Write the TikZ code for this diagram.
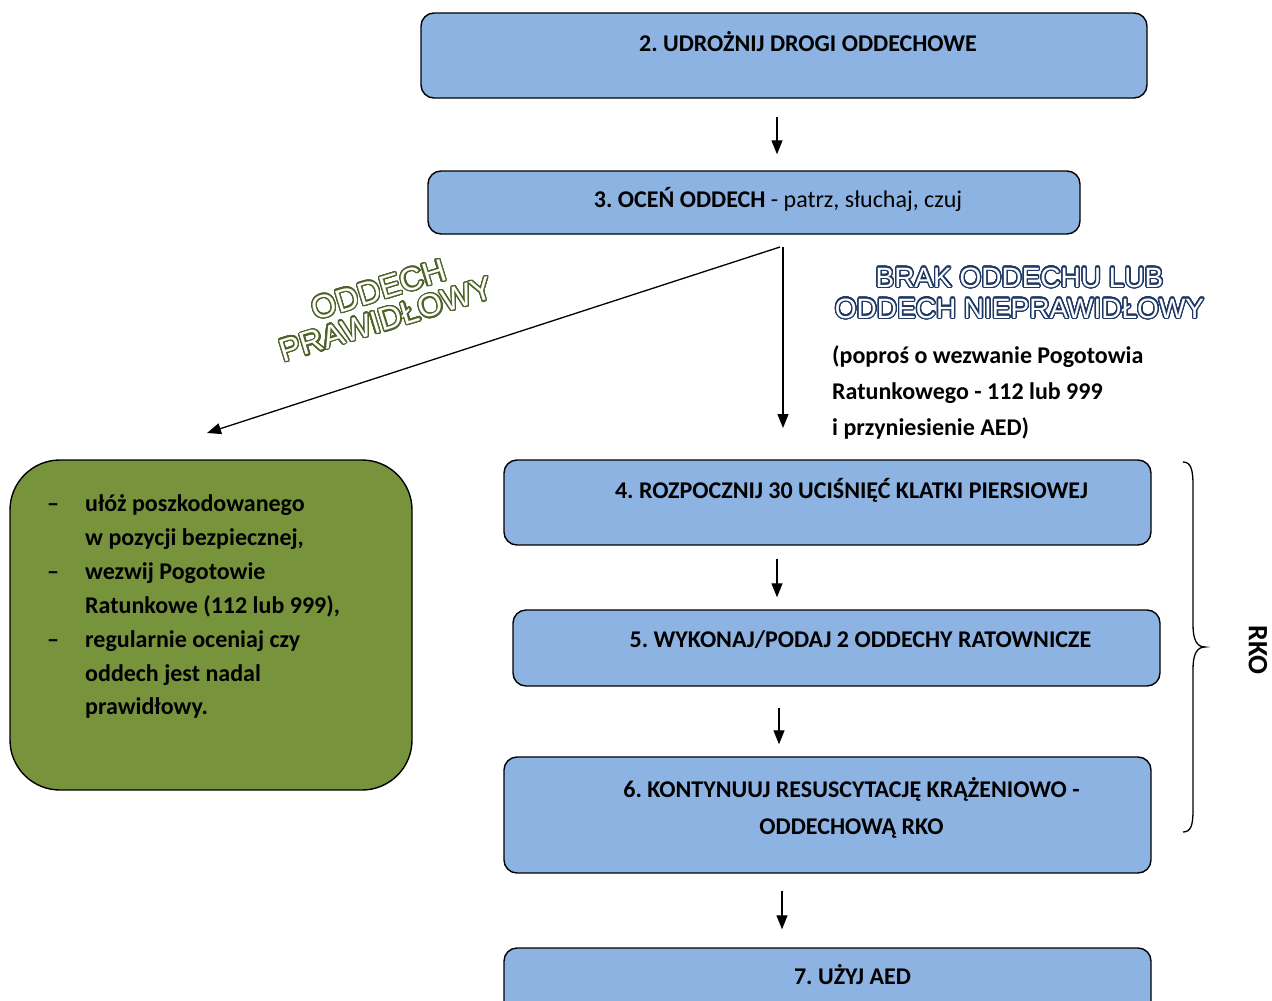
\documentclass[tikz,border=0pt]{standalone}
\usepackage{fontspec}
\setmainfont{Carlito}
\newfontfamily\wafont{Liberation Sans}
\usepackage{contour}
\contourlength{1.3pt}
\contournumber{32}
\usetikzlibrary{arrows.meta}
\definecolor{boxblue}{HTML}{8DB3E2}
\definecolor{boxgreen}{HTML}{77933C}
\definecolor{wagreen}{HTML}{4F6228}
\definecolor{wablue}{HTML}{1F3864}
\frenchspacing
\begin{document}
\begin{tikzpicture}[x=1pt,y=-1pt,
  bluebox/.style={draw=black, line width=1.4pt, fill=boxblue, rounded corners=13pt, inner sep=0pt},
  greenbox/.style={draw=black, line width=1.4pt, fill=boxgreen, rounded corners=50pt, inner sep=0pt},
  lbl/.style={font=\fontsize{24}{30}\selectfont\bfseries, inner sep=0pt},
  wa/.style={font=\wafont\fontsize{28}{30}\selectfont, inner sep=0pt, text=white},
  wag/.style={font=\wafont\fontsize{32}{34}\selectfont, inner sep=0pt, text=white},
  arr/.style={line width=1.3pt, -{Triangle[length=14pt,width=11pt]}},
]
\useasboundingbox (0,0) rectangle (1272,1001);
\clip (0,0) rectangle (1272,1001);

% blue boxes
\node[bluebox, minimum width=726pt, minimum height=85pt] (b2) at (784,55.5) {};
\node[lbl, anchor=base] (t2) at (808,51) {2. UDROŻNIJ DROGI ODDECHOWE};
\node[bluebox, minimum width=652pt, minimum height=63pt] (b3) at (754,202.5) {};
\node[lbl, anchor=base] (t3) at (778,207) {3. OCEŃ ODDECH\mdseries{} - patrz, słuchaj, czuj};
\node[bluebox, minimum width=647pt, minimum height=85pt] (b4) at (827.5,502.5) {};
\node[lbl, anchor=base] (t4) at (851.5,498) {4. ROZPOCZNIJ 30 UCIŚNIĘĆ KLATKI PIERSIOWEJ};
\node[bluebox, minimum width=647pt, minimum height=76pt] (b5) at (836.5,648) {};
\node[lbl, anchor=base] (t5) at (860.5,647) {5. WYKONAJ/PODAJ 2 ODDECHY RATOWNICZE};
\node[bluebox, minimum width=647pt, minimum height=116pt] (b6) at (827.5,815) {};
\node[lbl, anchor=base] (t6a) at (851.5,797) {6. KONTYNUUJ RESUSCYTACJĘ KRĄŻENIOWO -};
\node[lbl, anchor=base] (t6b) at (851.5,834) {ODDECHOWĄ RKO};
\node[bluebox, minimum width=647pt, minimum height=85pt] (b7) at (827.5,990.5) {};
\node[lbl, anchor=base] (t7) at (852.5,984) {7. UŻYJ AED};

% green box
\node[greenbox, minimum width=402pt, minimum height=330pt] (gb) at (211,625) {};
\node[lbl, anchor=base west] (gd1) at (47,511.5) {–};
\node[lbl, anchor=base west] (gl1) at (85,511.5) {ułóż poszkodowanego};
\node[lbl, anchor=base west] (gl2) at (85,545.4) {w pozycji bezpiecznej,};
\node[lbl, anchor=base west] (gd2) at (47,579.3) {–};
\node[lbl, anchor=base west] (gl3) at (85,579.3) {wezwij Pogotowie};
\node[lbl, anchor=base west] (gl4) at (85,613.2) {Ratunkowe (112 lub 999),};
\node[lbl, anchor=base west] (gd3) at (47,647.1) {–};
\node[lbl, anchor=base west] (gl5) at (85,647.1) {regularnie oceniaj czy};
\node[lbl, anchor=base west] (gl6) at (85,681) {oddech jest nadal};
\node[lbl, anchor=base west] (gl7) at (85,714.9) {prawidłowy.};

% side text
\node[lbl, anchor=base west] (s1) at (832,363) {(poproś o wezwanie Pogotowia};
\node[lbl, anchor=base west] (s2) at (832,399) {Ratunkowego - 112 lub 999};
\node[lbl, anchor=base west] (s3) at (832,435) {i przyniesienie AED)};

% word art
\node[wa, anchor=base] (wb1) at (1019.5,287) {\contour{wablue}{BRAK ODDECHU LUB}};
\node[wa, anchor=base] (wb2) at (1019.5,318) {\contour{wablue}{ODDECH NIEPRAWIDŁOWY}};
\node[wag, rotate=17] (wg1) at (378.8,290.1) {\contour{wagreen}{ODDECH}};
\node[wag, rotate=17] (wg2) at (386.2,319.9) {\contour{wagreen}{PRAWIDŁOWY}};

% RKO
\node[font=\fontsize{28}{30}\selectfont\bfseries, inner sep=0pt, rotate=-90] (rko) at (1258,650) {RKO};

% connectors
\coordinate (spd) at (780,247);
\coordinate (spv) at (783,247);
\coordinate (gt) at (207,433);
\coordinate (ve) at (783,428);
\draw[arr, shorten <=18pt, shorten >=16pt] ([xshift=-7pt]b2.south) -- ([xshift=-7pt]b2.south |- b3.north);
\draw[arr] (spd) -- (gt);
\draw[arr] (spv) -- (ve);
\draw[arr, shorten <=13pt, shorten >=12pt] ([xshift=-50.5pt]b4.south) -- ([xshift=-50.5pt]b4.south |- b5.north);
\draw[arr, shorten <=21pt, shorten >=12pt] ([xshift=-57.5pt]b5.south) -- ([xshift=-57.5pt]b5.south |- b6.north);
\draw[arr, shorten <=17pt, shorten >=18pt] ([xshift=-45.5pt]b6.south) -- ([xshift=-45.5pt]b6.south |- b7.north);

% brace
\draw[line width=1.3pt] (1183,462) .. controls (1191,462) and (1193,470) .. (1193,485) -- (1193,625)
  .. controls (1193,640) and (1197,647) .. (1205,647)
  .. controls (1197,647) and (1193,654) .. (1193,669) -- (1193,810)
  .. controls (1193,825) and (1191,832) .. (1183,832);
\end{tikzpicture}
\end{document}
